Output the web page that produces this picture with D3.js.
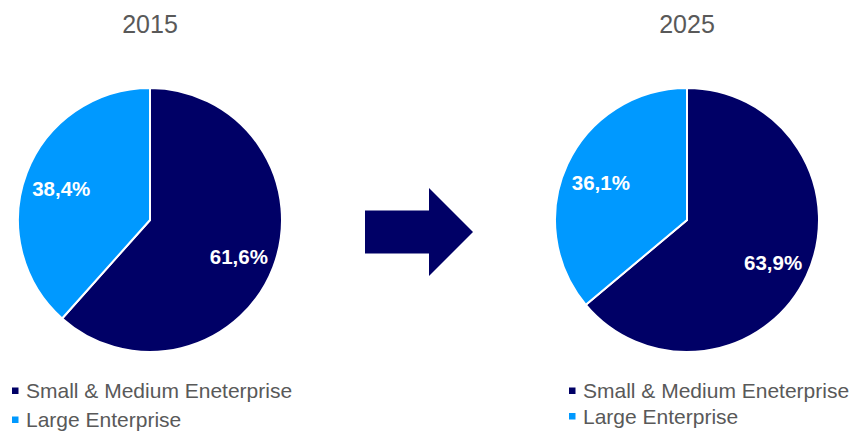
<!DOCTYPE html>
<html>
<head>
<meta charset="utf-8">
<script src="https://cdn.jsdelivr.net/npm/d3@7"></script>
<style>
  html, body { margin: 0; padding: 0; background: #ffffff; }
  svg { display: block; }
  text { font-family: "Liberation Sans", Arial, sans-serif; }
</style>
</head>
<body>
<svg id="chart" width="855" height="432"></svg>
<script>
// Company-size shares of the market, two snapshots
const years = ["2015", "2025"];
const segments = ["Small & Medium Eneterprise", "Large Enterprise"];
const smeShare = [61.6, 63.9];
const largeShare = [38.4, 36.1];

const colors = d3.scaleOrdinal().domain(segments).range(["#000066", "#0099ff"]);

const svg = d3.select("#chart");

// layout for each pie panel
const panels = [
  { cx: 150, cy: 220, r: 132, legendX: 12, rowGap: 29 },
  { cx: 687, cy: 220, r: 132, legendX: 569, rowGap: 25.5 }
];

const pie = d3.pie().sort(null).value(d => d.value);
const arc = d3.arc().innerRadius(0);
const fmt = v => d3.format(".1f")(v).replace(".", ",") + "%";

years.forEach((year, i) => {
  const p = panels[i];
  const data = segments.map((s, k) => ({ name: s, value: k === 0 ? smeShare[i] : largeShare[i] }));
  const g = svg.append("g").attr("transform", `translate(${p.cx},${p.cy})`);

  // year title
  g.append("text")
    .attr("x", 0).attr("y", 33 - p.cy)
    .attr("text-anchor", "middle")
    .attr("font-size", 25)
    .attr("fill", "#595959")
    .text(year);

  const arcs = pie(data);
  arc.outerRadius(p.r);
  g.selectAll("path.slice").data(arcs).join("path")
    .attr("class", "slice")
    .attr("d", arc)
    .attr("fill", d => colors(d.data.name))
    .attr("stroke", "#ffffff")
    .attr("stroke-width", 2)
    .attr("stroke-linejoin", "miter");

  // value labels inside slices
  const labelArc = d3.arc().innerRadius(p.r * 0.72).outerRadius(p.r * 0.72);
  g.selectAll("text.val").data(arcs).join("text")
    .attr("class", "val")
    .attr("transform", d => {
      const [x, y] = labelArc.centroid(d);
      return `translate(${x},${y + 3})`;
    })
    .attr("text-anchor", "middle")
    .attr("dy", "0.35em")
    .attr("font-size", 20.5)
    .attr("font-weight", "bold")
    .attr("fill", "#ffffff")
    .text(d => fmt(d.data.value));

  // legend
  const lg = svg.append("g").attr("transform", `translate(${p.legendX},398)`);
  const rows = lg.selectAll("g").data(segments).join("g")
    .attr("transform", (d, k) => `translate(0,${k * p.rowGap})`);
  rows.append("rect")
    .attr("x", 0).attr("y", -10.5)
    .attr("width", 6.5).attr("height", 6.5)
    .attr("fill", d => colors(d));
  rows.append("text")
    .attr("x", 14).attr("y", 0)
    .attr("font-size", 21)
    .attr("fill", "#595959")
    .text(d => d);
});

// block arrow pointing from the first snapshot to the second
const arrow = { x0: 365, x1: 429, x2: 473, cy: 232, body: 21.5, head: 44 };
svg.append("path")
  .attr("d", d3.line()([
    [arrow.x0, arrow.cy - arrow.body],
    [arrow.x1, arrow.cy - arrow.body],
    [arrow.x1, arrow.cy - arrow.head],
    [arrow.x2, arrow.cy],
    [arrow.x1, arrow.cy + arrow.head],
    [arrow.x1, arrow.cy + arrow.body],
    [arrow.x0, arrow.cy + arrow.body]
  ]) + "Z")
  .attr("fill", "#000066");
</script>
</body>
</html>
